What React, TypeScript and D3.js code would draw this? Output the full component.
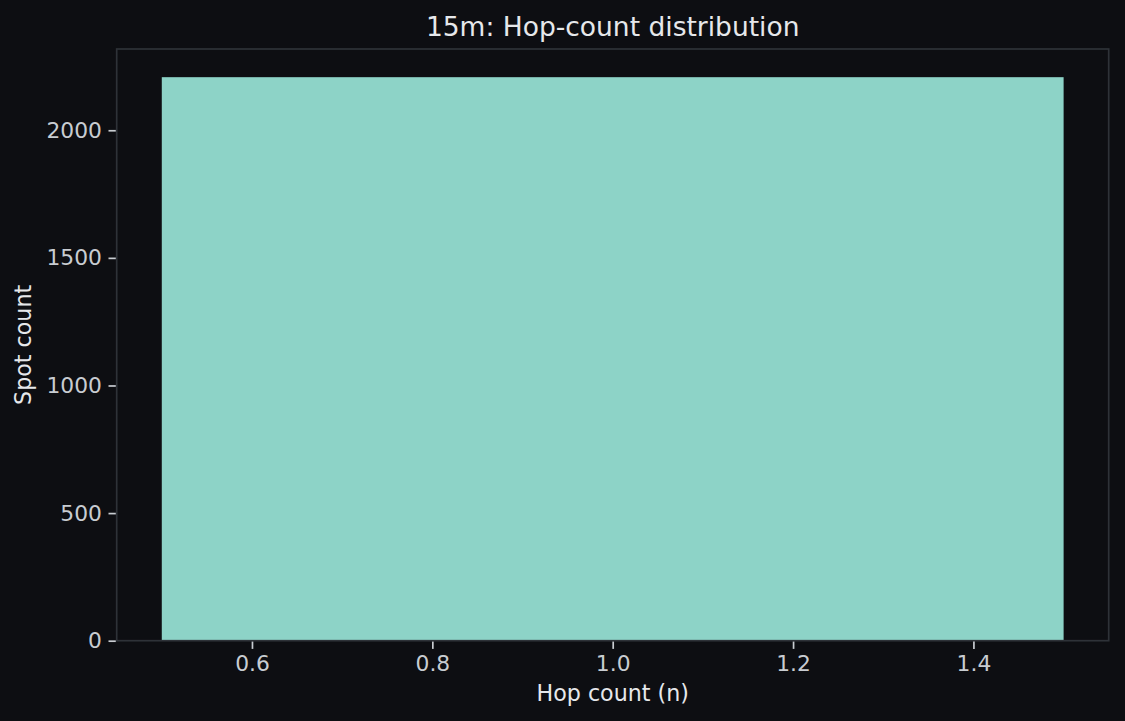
import React, { useEffect, useRef } from 'react';
import * as d3 from 'd3';

const hopCounts: number[] = [1];
const spotCounts: number[] = [2208];
const xTicks: number[] = [0.6, 0.8, 1.0, 1.2, 1.4];
const yTicks: number[] = [0, 500, 1000, 1500, 2000];

const WIDTH = 1125;
const HEIGHT = 721;
const BG = '#0d0e12';
const SPINE = '#2e3238';
const TICK_TEXT = '#c8ccd1';
const TITLE_TEXT = '#e6e8eb';
const BAR = '#8dd3c7';
const FONT = '"DejaVu Sans", sans-serif';

const App: React.FC = () => {
    const svgRef = useRef<SVGSVGElement | null>(null);

    useEffect(() => {
        document.body.style.margin = '0';
        document.body.style.background = BG;

        const svg = d3.select(svgRef.current);
        svg.selectAll('*').remove();

        const margin = { left: 116.7, right: WIDTH - 1108.7, top: 49, bottom: HEIGHT - 640.7 };
        const plotW = WIDTH - margin.left - margin.right;
        const plotH = HEIGHT - margin.top - margin.bottom;

        svg.append('rect').attr('width', WIDTH).attr('height', HEIGHT).attr('fill', BG);

        const g = svg.append('g').attr('transform', `translate(${margin.left},${margin.top})`);

        // matplotlib-like margins: 5% padding on x, 5% headroom on y
        const xMin = d3.min(hopCounts)! - 0.5;
        const xMax = d3.max(hopCounts)! + 0.5;
        const xPad = (xMax - xMin) * 0.05;
        const xScale = d3.scaleLinear().domain([xMin - xPad, xMax + xPad]).range([0, plotW]);
        const yScale = d3.scaleLinear().domain([0, (d3.max(spotCounts) || 0) * 1.05]).range([plotH, 0]);

        const data = hopCounts.map((h, i) => ({ hop: h, count: spotCounts[i] }));

        // bars
        g.selectAll('.bar')
            .data(data)
            .enter()
            .append('rect')
            .attr('class', 'bar')
            .attr('x', d => xScale(d.hop - 0.5))
            .attr('y', d => yScale(d.count))
            .attr('width', d => xScale(d.hop + 0.5) - xScale(d.hop - 0.5))
            .attr('height', d => plotH - yScale(d.count))
            .attr('fill', BAR);

        // frame
        g.append('rect')
            .attr('x', 0)
            .attr('y', 0)
            .attr('width', plotW)
            .attr('height', plotH)
            .attr('fill', 'none')
            .attr('stroke', SPINE)
            .attr('stroke-width', 1.7);

        // x axis
        const xAxis = g.append('g')
            .attr('transform', `translate(0,${plotH})`)
            .call(d3.axisBottom(xScale).tickValues(xTicks).tickFormat(d3.format('.1f')).tickSize(7.3).tickPadding(7.3));
        xAxis.select('.domain').remove();
        xAxis.selectAll('line').attr('stroke', TICK_TEXT).attr('stroke-width', 1.7).attr('transform', 'translate(0,0.9)');
        xAxis.selectAll('text').attr('fill', TICK_TEXT).style('font-family', FONT).style('font-size', '21.8px');

        // y axis
        const yAxis = g.append('g')
            .call(d3.axisLeft(yScale).tickValues(yTicks).tickFormat(d3.format('d')).tickSize(7.3).tickPadding(7.5));
        yAxis.select('.domain').remove();
        yAxis.selectAll('line').attr('stroke', TICK_TEXT).attr('stroke-width', 1.7).attr('transform', 'translate(-0.9,0)');
        yAxis.selectAll('text').attr('fill', TICK_TEXT).style('font-family', FONT).style('font-size', '21.8px');

        // axis labels
        svg.append('text')
            .attr('x', margin.left + plotW / 2)
            .attr('y', 701)
            .attr('text-anchor', 'middle')
            .attr('fill', TITLE_TEXT)
            .style('font-family', FONT)
            .style('font-size', '22.2px')
            .text('Hop count (n)');

        svg.append('text')
            .attr('transform', `translate(31,${margin.top + plotH / 2}) rotate(-90)`)
            .attr('text-anchor', 'middle')
            .attr('fill', TITLE_TEXT)
            .style('font-family', FONT)
            .style('font-size', '22.2px')
            .text('Spot count');

        // title
        svg.append('text')
            .attr('x', margin.left + plotW / 2)
            .attr('y', 36)
            .attr('text-anchor', 'middle')
            .attr('fill', TITLE_TEXT)
            .style('font-family', FONT)
            .style('font-size', '26.5px')
            .text('15m: Hop-count distribution');
    }, []);

    return (
        <svg ref={svgRef} width={WIDTH} height={HEIGHT} style={{ display: 'block' }}></svg>
    );
};

export default App;
